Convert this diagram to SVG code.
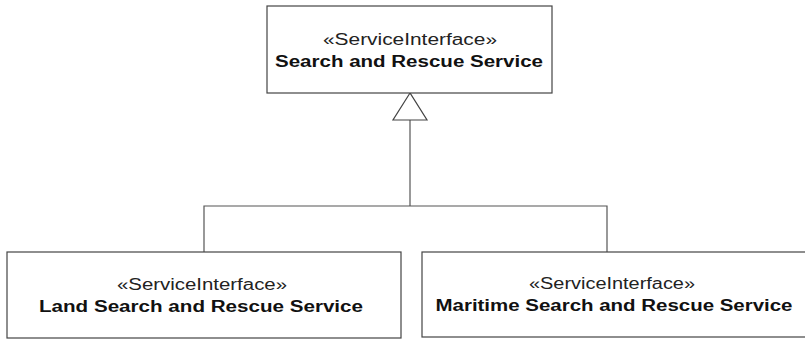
<svg xmlns="http://www.w3.org/2000/svg" width="805" height="339" viewBox="0 0 805 339">
<style>
.box{fill:#fff;stroke:#444;stroke-width:1.2}
.st{font-family:"Liberation Sans",Arial,sans-serif;font-size:16px;fill:#222;text-anchor:middle}
.nm{font-family:"Liberation Sans",Arial,sans-serif;font-size:16px;font-weight:bold;fill:#111;text-anchor:middle}
.ln{fill:none;stroke:#555;stroke-width:1.2}
</style>
<rect width="805" height="339" fill="#fff"/>
<g id="connectors">
<polyline class="ln" points="204,252 204,206 607,206 607,252"/>
<line class="ln" x1="410" y1="206" x2="410" y2="120"/>
<polygon points="410,93 393,120 427,120" fill="#fff" stroke="#444" stroke-width="1.2"/>
</g>
<g id="search-and-rescue">
<rect class="box" x="267" y="6" width="285" height="87"/>
<text class="st" x="410" y="45" textLength="174" lengthAdjust="spacingAndGlyphs">«ServiceInterface»</text>
<text class="nm" x="409" y="67" textLength="268" lengthAdjust="spacingAndGlyphs">Search and Rescue Service</text>
</g>
<g id="land-search">
<rect class="box" x="7" y="252" width="394" height="86"/>
<text class="st" x="202" y="290" textLength="170" lengthAdjust="spacingAndGlyphs">«ServiceInterface»</text>
<text class="nm" x="201" y="312" textLength="324" lengthAdjust="spacingAndGlyphs">Land Search and Rescue Service</text>
</g>
<g id="maritime-search">
<rect class="box" x="422" y="252" width="390" height="85"/>
<text class="st" x="612" y="289" textLength="166" lengthAdjust="spacingAndGlyphs">«ServiceInterface»</text>
<text class="nm" x="614" y="311" textLength="357" lengthAdjust="spacingAndGlyphs">Maritime Search and Rescue Service</text>
</g>
</svg>
